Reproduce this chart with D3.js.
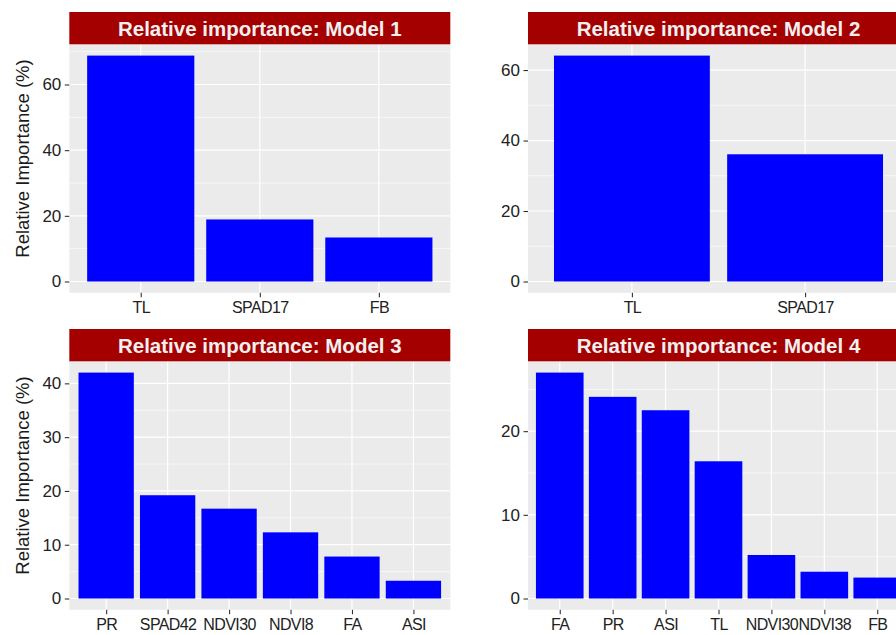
<!DOCTYPE html>
<html>
<head>
<meta charset="utf-8">
<script src="https://cdn.jsdelivr.net/npm/d3@7"></script>
<style>
  body { margin: 0; background: #fff; }
  svg { display: block; }
</style>
</head>
<body>
<svg id="chart" width="896" height="635"></svg>
<script>
// Relative importance of predictors for four models
const model1Vars = ["TL", "SPAD17", "FB"];
const model1Vals = [68.8, 18.9, 13.4];
const model1Ticks = [0, 20, 40, 60];

const model2Vars = ["TL", "SPAD17"];
const model2Vals = [64.1, 36.1];
const model2Ticks = [0, 20, 40, 60];

const model3Vars = ["PR", "SPAD42", "NDVI30", "NDVI8", "FA", "ASI"];
const model3Vals = [42.0, 19.2, 16.7, 12.3, 7.8, 3.3];
const model3Ticks = [0, 10, 20, 30, 40];

const model4Vars = ["FA", "PR", "ASI", "TL", "NDVI30", "NDVI38", "FB"];
const model4Vals = [27.0, 24.1, 22.5, 16.4, 5.2, 3.2, 2.5];
const model4Ticks = [0, 10, 20];

const titles = [
  "Relative importance: Model 1",
  "Relative importance: Model 2",
  "Relative importance: Model 3",
  "Relative importance: Model 4"
];
const yTitle = "Relative Importance (%)";

const panels = [
  { title: titles[0], vars: model1Vars, vals: model1Vals, ticks: model1Ticks, col: 0, row: 0 },
  { title: titles[1], vars: model2Vars, vals: model2Vals, ticks: model2Ticks, col: 1, row: 0 },
  { title: titles[2], vars: model3Vars, vals: model3Vals, ticks: model3Ticks, col: 0, row: 1 },
  { title: titles[3], vars: model4Vars, vals: model4Vals, ticks: model4Ticks, col: 1, row: 1 }
];

// layout
const FONT = "'Liberation Sans', Arial, Helvetica, sans-serif";
const colX = [69.3, 528];
const panelW = 381;
const rowStrip = [12, 329];
const stripH = 32.3;
const plotH = 248.5;

const svg = d3.select("#chart");

panels.forEach(p => {
  const left = colX[p.col];
  const top = rowStrip[p.row] + stripH;
  const bottom = top + plotH;
  const max = d3.max(p.vals);

  const y = d3.scaleLinear().domain([-0.05 * max, 1.05 * max]).range([bottom, top]);
  const x = d3.scalePoint().domain(p.vars).range([left, left + panelW]).padding(0.6);
  const bw = x.step() * 0.9;

  const g = svg.append("g");

  // panel background
  g.append("rect")
    .attr("x", left).attr("y", top)
    .attr("width", panelW).attr("height", plotH)
    .attr("fill", "#EBEBEB");

  // minor grid
  const step = p.ticks[1] - p.ticks[0];
  const [d0, d1] = y.domain();
  const minor = [p.ticks[0] - step / 2, ...p.ticks.map(t => t + step / 2)]
    .filter(v => v >= d0 && v <= d1);
  g.selectAll(".minor").data(minor).enter().append("line")
    .attr("x1", left).attr("x2", left + panelW)
    .attr("y1", d => y(d)).attr("y2", d => y(d))
    .attr("stroke", "#fff").attr("stroke-width", 0.6);

  // major grid
  g.selectAll(".majorY").data(p.ticks).enter().append("line")
    .attr("x1", left).attr("x2", left + panelW)
    .attr("y1", d => y(d)).attr("y2", d => y(d))
    .attr("stroke", "#fff").attr("stroke-width", 1.2);
  g.selectAll(".majorX").data(p.vars).enter().append("line")
    .attr("x1", d => x(d)).attr("x2", d => x(d))
    .attr("y1", top).attr("y2", bottom)
    .attr("stroke", "#fff").attr("stroke-width", 1.2);

  // bars
  g.selectAll(".bar").data(p.vars).enter().append("rect")
    .attr("x", d => x(d) - bw / 2)
    .attr("width", bw)
    .attr("y", (d, i) => y(p.vals[i]))
    .attr("height", (d, i) => y(0) - y(p.vals[i]))
    .attr("fill", "#0000FF");

  // axes
  const ya = g.append("g")
    .attr("transform", `translate(${left},0)`)
    .call(d3.axisLeft(y).tickValues(p.ticks).tickSize(4.5).tickPadding(3.5).tickFormat(d3.format("d")));
  const xa = g.append("g")
    .attr("transform", `translate(0,${bottom})`)
    .call(d3.axisBottom(x).tickSize(4.5).tickPadding(4.5));
  [ya, xa].forEach(a => {
    a.select(".domain").remove();
    a.selectAll(".tick line").attr("stroke", "#333").attr("stroke-width", 1.1);
    a.selectAll(".tick text")
      .attr("fill", "#222")
      .style("font-family", FONT);
  });
  ya.selectAll(".tick text").style("font-size", "17px");
  xa.selectAll(".tick text")
    .style("font-size", "16px")
    .style("letter-spacing", "-0.6px");

  // strip
  g.append("rect")
    .attr("x", left).attr("y", rowStrip[p.row])
    .attr("width", panelW).attr("height", stripH)
    .attr("fill", "#A50000");
  g.append("text")
    .attr("x", left + panelW / 2)
    .attr("y", rowStrip[p.row] + stripH / 2)
    .attr("dy", "0.36em")
    .attr("text-anchor", "middle")
    .attr("fill", "#F0F0F0")
    .style("font-family", FONT)
    .style("font-weight", "bold")
    .style("font-size", "20.5px")
    .text(p.title);

  // y-axis title on the left column
  if (p.col === 0) {
    const cy = rowStrip[p.row] + 146.5;
    g.append("text")
      .attr("transform", `translate(22.5,${cy}) rotate(-90)`)
      .attr("dy", "0.36em")
      .attr("text-anchor", "middle")
      .attr("fill", "#1a1a1a")
      .style("font-family", FONT)
      .style("font-size", "18.5px")
      .text(yTitle);
  }
});
</script>
</body>
</html>
